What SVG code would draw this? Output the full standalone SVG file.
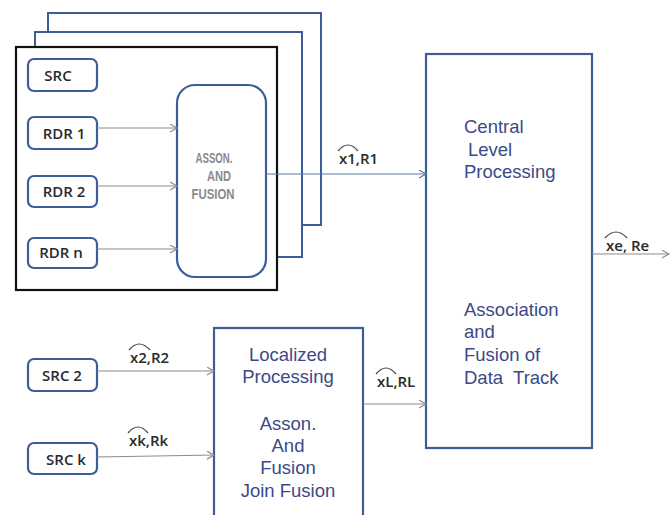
<svg xmlns="http://www.w3.org/2000/svg" width="670" height="515" viewBox="0 0 670 515">
<style>
.frame{fill:#fff;stroke:#3d5d99;stroke-width:2}
.box{fill:#fff;stroke:#3d5d99;stroke-width:2.2}
.src{fill:#fff;stroke:#3d5d99;stroke-width:2.2}
.lbl{font-family:"Open Sans","Liberation Sans",sans-serif;font-size:15px;font-weight:600;fill:#2a2a2a;text-anchor:middle}
.big{font-family:"Liberation Sans",Arial,sans-serif;font-size:18.5px;fill:#3b4a86}
.mid{font-family:"Liberation Sans",Arial,sans-serif;font-size:18.5px;fill:#3b4a86;text-anchor:middle}
.ass{font-family:"Liberation Sans",Arial,sans-serif;font-size:14px;font-weight:bold;fill:#8a8a8a;text-anchor:middle}
.sig{font-family:"Open Sans","Liberation Sans",sans-serif;font-size:15px;font-weight:600;fill:#2a2a2a}
.ar{stroke:#8c8c8c;stroke-width:1.2;fill:none;marker-end:url(#ah)}
.arb{stroke:#5a75a8;stroke-width:1.2;fill:none;marker-end:url(#ahb)}
.hat{fill:none;stroke:#444;stroke-width:1.2}
</style>
<defs>
<marker id="ah" markerWidth="10" markerHeight="10" refX="8" refY="4" orient="auto" markerUnits="userSpaceOnUse">
<path d="M1,0 L8,4 L1,8" fill="none" stroke="#8c8c8c" stroke-width="1.2"/>
</marker>
<marker id="ahb" markerWidth="10" markerHeight="10" refX="8" refY="4" orient="auto" markerUnits="userSpaceOnUse">
<path d="M1,0 L8,4 L1,8" fill="none" stroke="#5a75a8" stroke-width="1.2"/>
</marker>
</defs>

<g id="frame-back"><rect class="frame" x="48" y="13" width="273" height="212"/></g>
<g id="frame-middle"><rect class="frame" x="35" y="32" width="267" height="225"/></g>
<g id="frame-front"><rect x="16" y="47" width="261" height="243" fill="#fff" stroke="#111" stroke-width="2.2"/></g>

<g id="src"><rect class="src" x="28" y="59" width="69" height="32" rx="6"/><text class="lbl" x="58" y="81">SRC</text></g>
<g id="rdr1"><rect class="src" x="28" y="117" width="69" height="32" rx="6"/><text class="lbl" x="64" y="139">RDR 1</text></g>
<g id="rdr2"><rect class="src" x="28" y="176" width="69" height="31" rx="6"/><text class="lbl" x="64" y="197">RDR 2</text></g>
<g id="rdrn"><rect class="src" x="28" y="238" width="69" height="30" rx="6"/><text class="lbl" x="61" y="258">RDR n</text></g>

<g id="asson"><rect class="box" x="177" y="85" width="89" height="192" rx="18"/>
<text class="ass" x="214" y="163" textLength="37" lengthAdjust="spacingAndGlyphs">ASSON.</text>
<text class="ass" x="219" y="181" textLength="24" lengthAdjust="spacingAndGlyphs">AND</text>
<text class="ass" x="213" y="199" textLength="43" lengthAdjust="spacingAndGlyphs">FUSION</text></g>

<g id="central"><rect class="box" x="426" y="54" width="166" height="394"/>
<text class="big" x="464" y="133">Central</text>
<text class="big" x="468" y="156">Level</text>
<text class="big" x="464" y="178">Processing</text>
<text class="big" x="464" y="316">Association</text>
<text class="big" x="464" y="338">and</text>
<text class="big" x="464" y="361">Fusion of</text>
<text class="big" x="464" y="384" xml:space="preserve">Data  Track</text></g>

<g id="src2"><rect class="src" x="28" y="359" width="69" height="32" rx="6"/><text class="lbl" x="62" y="381">SRC 2</text></g>
<g id="srck"><rect class="src" x="28" y="443" width="69" height="31" rx="6"/><text class="lbl" x="66" y="465">SRC k</text></g>

<g id="localized"><rect class="box" x="214" y="328" width="149" height="200"/>
<text class="mid" x="288" y="361">Localized</text>
<text class="mid" x="288" y="383">Processing</text>
<text class="mid" x="288" y="430">Asson.</text>
<text class="mid" x="288" y="452">And</text>
<text class="mid" x="288" y="474">Fusion</text>
<text class="mid" x="288" y="497">Join Fusion</text></g>

<g id="connectors">
<line class="ar" x1="97" y1="128" x2="177" y2="128"/>
<line class="ar" x1="97" y1="186" x2="177" y2="186"/>
<line class="ar" x1="97" y1="249" x2="177" y2="249"/>
<line class="arb" x1="266" y1="174" x2="426" y2="174"/>
<line class="ar" x1="97" y1="371" x2="214" y2="371"/>
<line class="ar" x1="97" y1="457" x2="214" y2="455"/>
<line class="ar" x1="363" y1="404" x2="426" y2="404"/>
<line class="ar" x1="592" y1="254" x2="669" y2="254"/>
</g>

<g id="labels">
<text class="sig" x="339" y="164">x1,R1</text><path class="hat" d="M338,151 Q348,139 358,151"/>
<text class="sig" x="606" y="251">xe, Re</text><path class="hat" d="M605,238 Q616,226 627,238"/>
<text class="sig" x="130" y="363">x2,R2</text><path class="hat" d="M129,350 Q139,338 150,350"/>
<text class="sig" x="129" y="446">xk,Rk</text><path class="hat" d="M128,433 Q138,421 148,433"/>
<text class="sig" x="377" y="387">xL,RL</text><path class="hat" d="M376,374 Q386,362 396,374"/>
</g>
</svg>
